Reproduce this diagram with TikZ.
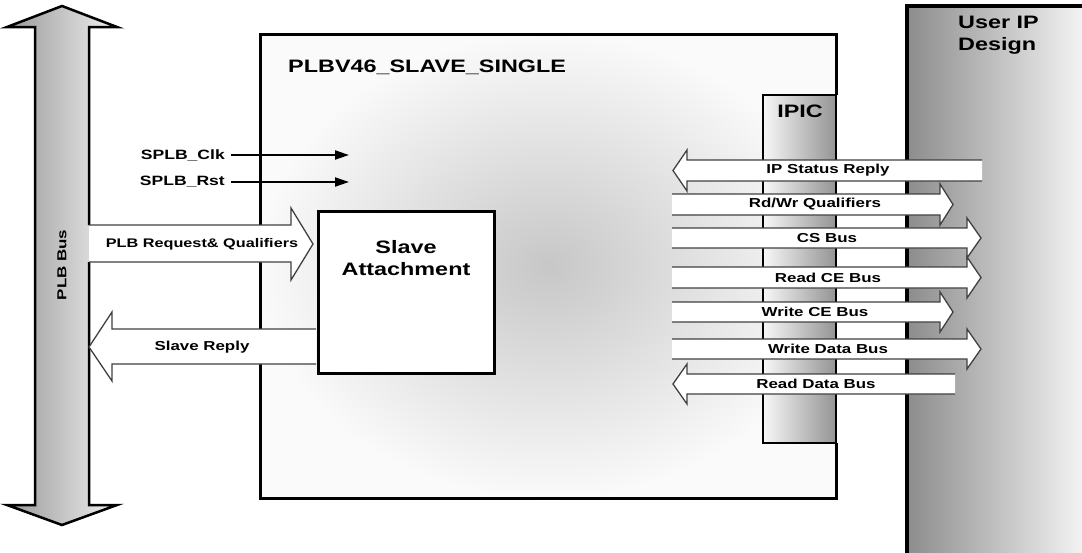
\documentclass[tikz,border=0pt]{standalone}
\usepackage{fontspec}
\setmainfont{Liberation Sans}[FakeStretch=1.3]
\usetikzlibrary{arrows.meta}
\newcommand\myRArrow[5]{%
  \fill[white] (#1,#4) -- (#2,#4) -- (#2,#4-10) -- (#3,{(#4+#5)/2}) -- (#2,#5+10) -- (#2,#5) -- (#1,#5) -- cycle;
  \draw[barrowline] (#1,#4) -- (#2,#4) -- (#2,#4-10) -- (#3,{(#4+#5)/2}) -- (#2,#5+10) -- (#2,#5) -- (#1,#5);
}
\newcommand\myLArrow[5]{% #1 right end, #2 head base, #3 tip
  \fill[white] (#1,#4) -- (#2,#4) -- (#2,#4-10) -- (#3,{(#4+#5)/2}) -- (#2,#5+10) -- (#2,#5) -- (#1,#5) -- cycle;
  \draw[barrowline] (#1,#4) -- (#2,#4) -- (#2,#4-10) -- (#3,{(#4+#5)/2}) -- (#2,#5+10) -- (#2,#5) -- (#1,#5);
}
\begin{document}
\begin{tikzpicture}[x=1pt,y=-1pt,
  barrowline/.style={draw=black!75,line width=1.3pt},
  lbl/.style={font=\fontsize{13}{14}\selectfont\bfseries,inner sep=0pt},
  big/.style={font=\fontsize{18}{22}\selectfont\bfseries,inner sep=0pt},
  sig/.style={line width=2pt,-{Triangle[length=14pt,width=9pt]}},
]
\useasboundingbox (0,0) rectangle (1082,552);
\begin{scope}
\clip (0,0) rectangle (1082,552);
% User IP design
\path[left color=black!45,right color=black!3] (907,6) rectangle (1090,560);
\draw[line width=4pt] (907,560) -- (907,6) -- (1090,6);
\end{scope}
\node[big,align=left,anchor=north west] (userip) at (958,16) {User IP\\Design};
% main box
\path[inner color=black!22,outer color=black!2] (260,34) rectangle (836,498);
\draw[line width=3pt] (836,95) -- (836,34) -- (260,34) -- (260,498) -- (836,498) -- (836,443);
\node[big,anchor=west] (title) at (288,67) {PLBV46\_SLAVE\_SINGLE};
% IPIC
\path[left color=black!3,right color=black!42] (763,95) rectangle (836,443);
\draw[line width=2pt] (763,95) rectangle (836,443);
\node[big] (ipic) at (800,111) {IPIC};
% Slave attachment
\draw[line width=3pt,fill=white] (318,211) rectangle (494,373);
\node[big,align=center] (sa) at (406,258) {Slave\\Attachment};
% PLB bus
\path[left color=black!40,right color=black!6]
  (62,6) -- (117,27) -- (89,27) -- (89,505) -- (117,505) -- (62,525) -- (7,505) -- (35,505) -- (35,27) -- (7,27) -- cycle;
\draw[line width=2.5pt,line join=miter]
  (89,225) -- (89,27) -- (117,27) -- (62,6) -- (7,27) -- (35,27) -- (35,505) -- (7,505) -- (62,525) -- (117,505) -- (89,505) -- (89,262);
\node[font=\fontsize{13}{15}\selectfont\bfseries,rotate=90,inner sep=0pt] (plbbus) at (62,265) {PLB Bus};
% PLB request arrow
\fill[white] (89,225) -- (291,225) -- (291,208) -- (313,244) -- (291,280) -- (291,262) -- (89,262) -- cycle;
\draw[barrowline] (89,225) -- (291,225) -- (291,208) -- (313,244) -- (291,280) -- (291,262) -- (89,262);
\node[lbl,font=\fontsize{12.5}{14}\selectfont\bfseries] (plbreq) at (202,244) {PLB Request\& Qualifiers};
% Slave reply arrow
\fill[white] (316,329) -- (112,329) -- (112,312) -- (89,347) -- (112,381) -- (112,364) -- (316,364) -- cycle;
\draw[barrowline] (316,329) -- (112,329) -- (112,312) -- (89,347) -- (112,381) -- (112,364) -- (316,364);
\node[lbl] (slavereply) at (202,347) {Slave Reply};
% clock/reset
\node[font=\fontsize{13.5}{15}\selectfont\bfseries,anchor=east,inner sep=0pt] (clk) at (225,155) {SPLB\_Clk};
\node[font=\fontsize{13.5}{15}\selectfont\bfseries,anchor=east,inner sep=0pt] (rst) at (225,182) {SPLB\_Rst};
\coordinate (clkend) at (349,155);
\coordinate (rstend) at (349,182);
\draw[sig] ([xshift=6pt]clk.east) -- (clkend);
\draw[sig] ([xshift=6pt]rst.east) -- (rstend);
% IPIC buses
\myLArrow{982}{687}{673}{160}{181}
\node[lbl] (ipstatus) at (828,170.5) {IP Status Reply};
\myRArrow{672}{940}{953}{194}{215}
\node[lbl] (rdwr) at (815,204.5) {Rd/Wr Qualifiers};
\myRArrow{672}{967}{981}{228}{248}
\node[lbl] (csbus) at (827,238) {CS Bus};
\myRArrow{672}{967}{981}{267}{288}
\node[lbl] (rdce) at (828,277.5) {Read CE Bus};
\myRArrow{672}{940}{953}{302}{322}
\node[lbl] (wrce) at (815,312) {Write CE Bus};
\myRArrow{672}{967}{981}{339}{359}
\node[lbl] (wrdata) at (828,349) {Write Data Bus};
\myLArrow{955}{687}{673}{374}{394}
\node[lbl] (rddata) at (816,384) {Read Data Bus};
\end{tikzpicture}
\end{document}
